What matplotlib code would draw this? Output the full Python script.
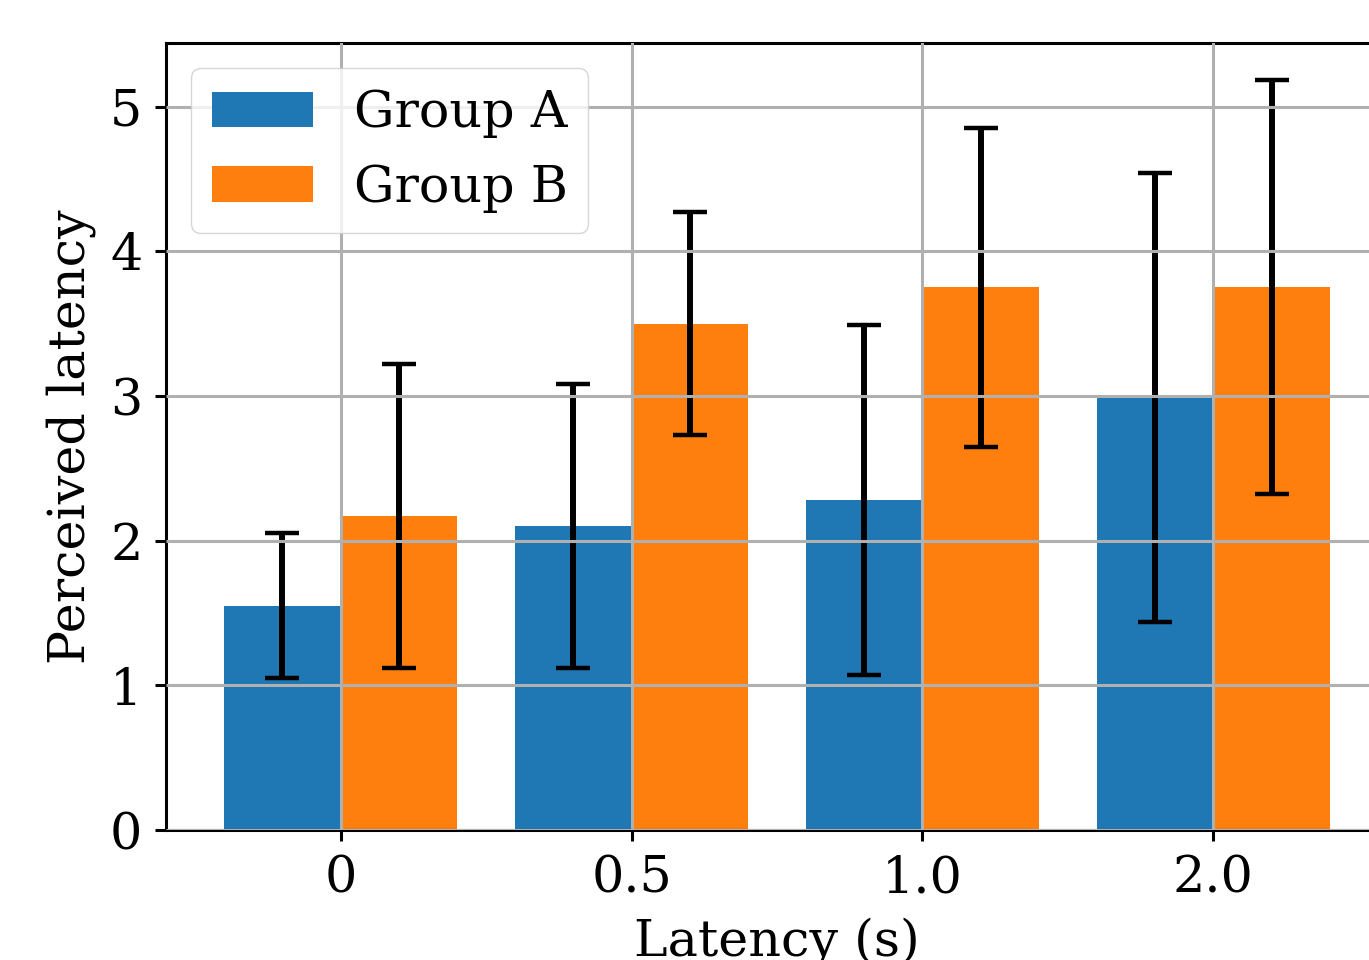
import matplotlib
matplotlib.use('Agg')
import matplotlib.pyplot as plt
import numpy as np

# data
latency = ['0', '0.5', '1.0', '2.0']
group_a = [1.55, 2.10, 2.28, 2.99]
group_a_err = [0.50, 0.98, 1.21, 1.55]
group_b = [2.17, 3.50, 3.75, 3.75]
group_b_err = [1.05, 0.77, 1.10, 1.43]

plt.rcParams['font.family'] = ['DejaVu Serif']
plt.rcParams['font.size'] = 36.5

fig = plt.figure(figsize=(13.69, 9.6), dpi=100)
# axes runs a little past the right edge of the picture, like the reference
ax = fig.add_axes([166/1369, 1 - 830/960, 1222/1369, (830 - 43)/960])

x = np.arange(len(latency))
w = 0.4
err_kw = dict(elinewidth=4.3, capsize=12, capthick=3.2, ecolor='black')
ax.bar(x - w/2, group_a, w, yerr=group_a_err, color='#1f77b4', label='Group A',
       error_kw=err_kw)
ax.bar(x + w/2, group_b, w, yerr=group_b_err, color='#ff7f0e', label='Group B',
       error_kw=err_kw)

ax.set_xlim(-0.6, 3.6)
ax.set_xticks(x)
ax.set_xticklabels(latency)
ax.set_xlabel('Latency (s)', labelpad=10)
ax.set_ylabel('Perceived latency', labelpad=10)

ax.set_axisbelow(False)
ax.grid(True, color='#b0b0b0', linewidth=2.2)
for s in ax.spines.values():
    s.set_linewidth(2.2)
ax.tick_params(length=8, width=2.2, pad=9)

ax.legend(loc='upper left', framealpha=0.8, borderaxespad=0.5)

fig.savefig('out.png', dpi=100)
